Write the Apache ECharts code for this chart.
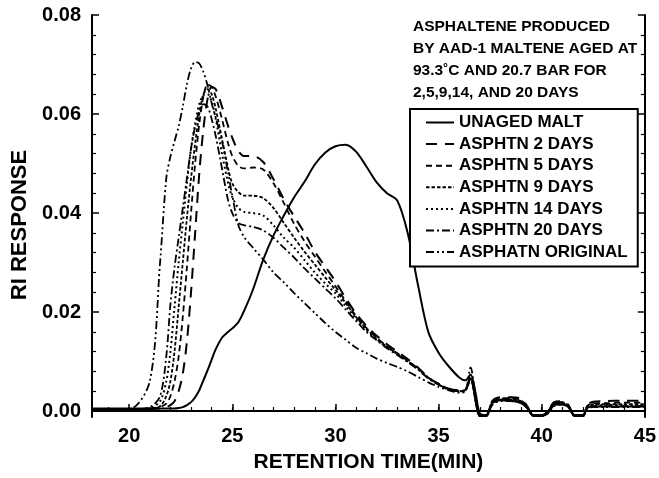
<!DOCTYPE html>
<html>
<head>
<meta charset="utf-8">
<script src="https://cdn.jsdelivr.net/npm/echarts@6/dist/echarts.min.js"></script>
<style>html,body{margin:0;padding:0;background:#fff}#c{width:659px;height:478px}</style>
</head>
<body>
<div id="c"></div>
<script>
// Retention time (min)
const TIME = [18.2, 20, 21, 21.5, 21.8, 22, 22.2, 22.4, 22.6, 22.8,
  23, 23.2, 23.4, 23.6, 23.8, 24, 24.2, 24.5, 24.8, 25,
  25.3, 25.6, 26, 26.5, 27, 27.5, 28, 28.5, 29, 29.5,
  30, 30.5, 31, 31.5, 32, 32.5, 33, 33.5, 34, 34.5,
  35, 35.5, 36, 36.3, 36.55, 36.8, 37, 37.3, 37.6, 38,
  38.5, 39, 39.3, 39.6, 40, 40.3, 40.6, 41, 41.3, 41.6,
  42, 42.2, 42.5, 43, 44, 45];

const UNAGED_MALT = [0.0005, 0.0005, 0.0005, 0.0005, 0.0005, 0.0005, 0.0005, 0.0006, 0.0008, 0.0012,
  0.0018, 0.0028, 0.0042, 0.0062, 0.0082, 0.0104, 0.0125, 0.0148, 0.016, 0.0167,
  0.018, 0.0205, 0.0245, 0.0306, 0.0355, 0.0395, 0.0432, 0.0463, 0.0498, 0.0522,
  0.0535, 0.0538, 0.0524, 0.0494, 0.0462, 0.044, 0.0425, 0.036, 0.0255, 0.016,
  0.0118, 0.009, 0.0068, 0.0062, 0.0074, 0.0035, -0.0005, -0.0008, 0.0016, 0.0022,
  0.0021, 0.0016, 0.0006, -0.0008, -0.0008, -0.0004, 0.0012, 0.0014, 0.0008, -0.0008,
  -0.0008, 0.0006, 0.0009, 0.0009, 0.0009, 0.0009];

const ASPHTN_2 = [0.0003, 0.0003, 0.0004, 0.0005, 0.0008, 0.0012, 0.002, 0.004, 0.0075, 0.014,
  0.024, 0.036, 0.048, 0.057, 0.063, 0.0655, 0.065, 0.0615, 0.0575, 0.0552,
  0.0525, 0.0515, 0.0515, 0.0503, 0.0468, 0.0428, 0.0393, 0.036, 0.0322, 0.0292,
  0.0262, 0.0228, 0.0197, 0.0172, 0.0152, 0.0135, 0.012, 0.0105, 0.0088, 0.0068,
  0.0055, 0.0045, 0.0042, 0.0043, 0.007, 0.002, -0.001, -0.001, 0.002, 0.0028,
  0.0028, 0.0025, 0.001, -0.001, -0.001, 0, 0.0018, 0.002, 0.0012, -0.001,
  -0.001, 0.0012, 0.0019, 0.002, 0.0021, 0.0021];

const ASPHTN_5 = [0.0003, 0.0003, 0.0004, 0.0008, 0.0015, 0.003, 0.006, 0.011, 0.019, 0.029,
  0.040, 0.050, 0.058, 0.0635, 0.066, 0.0655, 0.0635, 0.059, 0.054, 0.0515,
  0.0495, 0.049, 0.0492, 0.0488, 0.046, 0.042, 0.0378, 0.0343, 0.0312, 0.0282,
  0.0252, 0.0222, 0.0192, 0.0168, 0.0148, 0.0131, 0.0117, 0.0102, 0.0086, 0.0068,
  0.0055, 0.0045, 0.0041, 0.0043, 0.0068, 0.002, -0.001, -0.001, 0.0018, 0.0026,
  0.0026, 0.0022, 0.0008, -0.001, -0.001, 0, 0.0016, 0.0018, 0.001, -0.001,
  -0.001, 0.001, 0.0016, 0.0016, 0.0017, 0.0017];

const ASPHTN_9 = [0.0003, 0.0003, 0.0005, 0.001, 0.003, 0.006, 0.012, 0.021, 0.030, 0.039,
  0.047, 0.054, 0.060, 0.064, 0.065, 0.064, 0.061, 0.055, 0.049, 0.046,
  0.0442, 0.0435, 0.0435, 0.043, 0.041, 0.038, 0.035, 0.0322, 0.0296, 0.027,
  0.0245, 0.0218, 0.019, 0.0166, 0.0146, 0.013, 0.0116, 0.0101, 0.0085, 0.0067,
  0.0054, 0.0044, 0.004, 0.0042, 0.0066, 0.002, -0.001, -0.001, 0.0016, 0.0024,
  0.0024, 0.002, 0.0007, -0.001, -0.001, 0, 0.0015, 0.0017, 0.0009, -0.001,
  -0.001, 0.0009, 0.0014, 0.0014, 0.0014, 0.0014];

const ASPHTN_14 = [0.0003, 0.0003, 0.0006, 0.002, 0.006, 0.012, 0.021, 0.030, 0.038, 0.046,
  0.053, 0.058, 0.062, 0.0638, 0.064, 0.0625, 0.059, 0.052, 0.046, 0.0432,
  0.041, 0.0402, 0.040, 0.0395, 0.0375, 0.035, 0.033, 0.0305, 0.028, 0.0258,
  0.0238, 0.0212, 0.0187, 0.0164, 0.0145, 0.0129, 0.0115, 0.01, 0.0085, 0.0067,
  0.0054, 0.0044, 0.004, 0.0042, 0.0066, 0.002, -0.001, -0.001, 0.0015, 0.0023,
  0.0023, 0.0019, 0.0007, -0.001, -0.001, 0, 0.0014, 0.0016, 0.0009, -0.001,
  -0.001, 0.0008, 0.0012, 0.0012, 0.0012, 0.0012];

const ASPHTN_20 = [0.0003, 0.0003, 0.0008, 0.003, 0.011, 0.0215, 0.029, 0.035, 0.041, 0.047,
  0.053, 0.0575, 0.0605, 0.062, 0.0615, 0.059, 0.0555, 0.049, 0.0425, 0.040,
  0.038, 0.0375, 0.0372, 0.0365, 0.035, 0.033, 0.031, 0.0288, 0.0268, 0.0248,
  0.0228, 0.0205, 0.0182, 0.016, 0.0143, 0.0127, 0.0113, 0.0099, 0.0084, 0.0066,
  0.0053, 0.0043, 0.004, 0.0042, 0.0065, 0.002, -0.001, -0.001, 0.0014, 0.0022,
  0.0022, 0.0018, 0.0006, -0.001, -0.001, 0, 0.0013, 0.0015, 0.0008, -0.001,
  -0.001, 0.0007, 0.001, 0.001, 0.001, 0.001];

const ASPHATN_ORIGINAL = [0.0004, 0.0004, 0.006, 0.030, 0.047, 0.0514, 0.0545, 0.0575, 0.0615, 0.066,
  0.0692, 0.0705, 0.0702, 0.0685, 0.0658, 0.0622, 0.0592, 0.0545, 0.048, 0.0435,
  0.0375, 0.035, 0.033, 0.0306, 0.028, 0.026, 0.0238, 0.0218, 0.0198, 0.0178,
  0.016, 0.0144, 0.0128, 0.0117, 0.0106, 0.0097, 0.0089, 0.008, 0.0069, 0.0058,
  0.0049, 0.0042, 0.0037, 0.004, 0.0088, 0.003, -0.0008, -0.001, 0.0012, 0.002,
  0.002, 0.0017, 0.0006, -0.001, -0.001, -0.0005, 0.001, 0.0013, 0.0007, -0.001,
  -0.001, 0.0005, 0.0008, 0.0008, 0.0008, 0.0008];

const X_LABELS = [20, 25, 30, 35, 40, 45];
const X_MINOR = [19,20,21,22,23,24,25,26,27,28,29,30,31,32,33,34,35,36,37,38,39,40,41,42,43,44,45];
const Y_LABELS = [0, 0.02, 0.04, 0.06, 0.08];
const Y_MINOR = [0.004,0.008,0.012,0.016,0.024,0.028,0.032,0.036,0.044,0.048,0.052,0.056,0.064,0.068,0.072,0.076];
const NOTE = ['ASPHALTENE PRODUCED', 'BY AAD-1 MALTENE AGED AT', '93.3\u02DAC AND 20.7 BAR FOR', '2,5,9,14, AND 20 DAYS'];

const SERIES = [
  ['UNAGED MALT', UNAGED_MALT, 'solid', 2],
  ['ASPHTN 2 DAYS', ASPHTN_2, [11, 8], 2],
  ['ASPHTN 5 DAYS', ASPHTN_5, [6, 4], 1.8],
  ['ASPHTN 9 DAYS', ASPHTN_9, [3.5, 2], 1.8],
  ['ASPHTN 14 DAYS', ASPHTN_14, [2, 3], 2],
  ['ASPHTN 20 DAYS', ASPHTN_20, [8, 3, 2, 3], 1.8],
  ['ASPHATN ORIGINAL', ASPHATN_ORIGINAL, [8, 3, 2, 3, 2, 3], 1.8]
];

const FONT = '"Liberation Sans", Arial, Helvetica, sans-serif';
const chart = echarts.init(document.getElementById('c'), null, {renderer: 'canvas'});

const black = '#000';
function xAxisBase(extra) {
  return Object.assign({
    type: 'value', min: 18.2, max: 45, gridIndex: 0,
    splitLine: {show: false}
  }, extra);
}
function yAxisBase(extra) {
  return Object.assign({
    type: 'value', min: -0.0012, max: 0.08, gridIndex: 0,
    splitLine: {show: false}
  }, extra);
}

chart.setOption({
  animation: false,
  backgroundColor: '#fff',
  grid: {left: 92, right: 11, top: 15, bottom: 60, containLabel: false},
  xAxis: [
    xAxisBase({
      position: 'bottom',
      name: 'RETENTION TIME(MIN)', nameLocation: 'middle', nameGap: 35,
      nameTextStyle: {fontFamily: FONT, fontWeight: 'bold', fontSize: 21, color: black},
      axisLine: {show: true, lineStyle: {color: black, width: 2}},
      axisTick: {show: true, inside: true, length: 7, customValues: X_LABELS, lineStyle: {color: black, width: 1.5}},
      axisLabel: {show: true, customValues: X_LABELS, margin: 9, fontFamily: FONT, fontWeight: 'bold', fontSize: 20, color: black}
    }),
    xAxisBase({
      position: 'bottom',
      axisLine: {show: false},
      axisTick: {show: true, inside: true, length: 4, customValues: X_MINOR, lineStyle: {color: black, width: 1.2}},
      axisLabel: {show: false}
    }),
    xAxisBase({
      position: 'top',
      axisLine: {show: true, lineStyle: {color: black, width: 2}},
      axisTick: {show: false},
      axisLabel: {show: false}
    })
  ],
  yAxis: [
    yAxisBase({
      position: 'left',
      name: 'RI RESPONSE', nameLocation: 'middle', nameGap: 57,
      nameTextStyle: {fontFamily: FONT, fontWeight: 'bold', fontSize: 22, color: black, padding: [0, 18, 0, 0]},
      axisLine: {show: true, lineStyle: {color: black, width: 2}},
      axisTick: {show: true, inside: true, length: 7, customValues: Y_LABELS, lineStyle: {color: black, width: 1.5}},
      axisLabel: {show: true, customValues: Y_LABELS, margin: 11, fontFamily: FONT, fontWeight: 'bold', fontSize: 20, color: black,
        formatter: v => v.toFixed(2)}
    }),
    yAxisBase({
      position: 'left',
      axisLine: {show: false},
      axisTick: {show: true, inside: true, length: 4, customValues: Y_MINOR, lineStyle: {color: black, width: 1.2}},
      axisLabel: {show: false}
    }),
    yAxisBase({
      position: 'right',
      axisLine: {show: true, lineStyle: {color: black, width: 2}},
      axisTick: {show: true, inside: true, length: 7, customValues: Y_LABELS, lineStyle: {color: black, width: 1.5}},
      axisLabel: {show: false}
    }),
    yAxisBase({
      position: 'right',
      axisLine: {show: false},
      axisTick: {show: true, inside: true, length: 4, customValues: Y_MINOR, lineStyle: {color: black, width: 1.2}},
      axisLabel: {show: false}
    })
  ],
  legend: {
    orient: 'vertical',
    left: 410, top: 109,
    padding: [5, 10, 6, 15],
    itemWidth: 28, itemHeight: 14, itemGap: 4.6,
    backgroundColor: '#fff',
    borderColor: black, borderWidth: 2,
    itemStyle: {opacity: 0, borderWidth: 0},
    textStyle: {fontFamily: FONT, fontWeight: 'bold', fontSize: 17, color: black},
    data: SERIES.map(s => s[0])
  },
  graphic: NOTE.map((t, i) => ({
    type: 'text', left: 413, top: 19 + i * 22,
    style: {text: t, font: 'bold 15.5px ' + FONT, fill: black}
  })),
  series: SERIES.map(([name, vals, dash, w]) => ({
    name, type: 'line', xAxisIndex: 0, yAxisIndex: 0,
    data: TIME.map((t, i) => [t, vals[i]]),
    symbol: 'none', smooth: 0.3,
    lineStyle: {color: black, width: w, type: dash},
    itemStyle: {color: black, opacity: 0}
  }))
});
</script>
</body>
</html>
